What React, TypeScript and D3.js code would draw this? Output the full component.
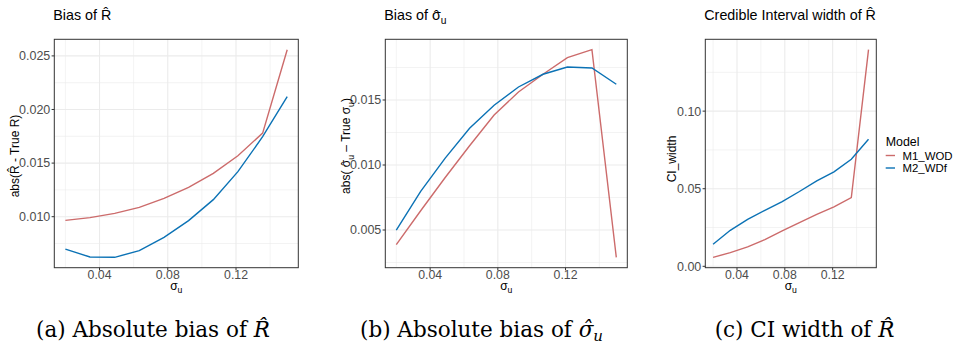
import React from "react";
import * as d3 from "d3";

// ---------- data ----------
const sigmaU = [0.02, 0.0344, 0.0489, 0.0633, 0.0778, 0.0922, 0.1067, 0.1211, 0.1356, 0.15];

const biasR_M1 = [0.00966, 0.00991, 0.01031, 0.01087, 0.01171, 0.01274, 0.01404, 0.01569, 0.0178, 0.02558];
const biasR_M2 = [0.00698, 0.00624, 0.00621, 0.00683, 0.00807, 0.00963, 0.01159, 0.0142, 0.01746, 0.0212];

const biasSigma_M1 = [0.00387, 0.00648, 0.00904, 0.01148, 0.01385, 0.01562, 0.01698, 0.01826, 0.01887, 0.0029];
const biasSigma_M2 = [0.005, 0.00797, 0.01053, 0.01283, 0.0146, 0.016, 0.01698, 0.01754, 0.01746, 0.01621];

const ciWidth_M1 = [0.0058, 0.0088, 0.0125, 0.0172, 0.0228, 0.0282, 0.0335, 0.0383, 0.0443, 0.1396];
const ciWidth_M2 = [0.0142, 0.0232, 0.0303, 0.0361, 0.0417, 0.0482, 0.0551, 0.0609, 0.069, 0.0819];

const models = ["M1_WOD", "M2_WDf"];
const xTicks = [0.04, 0.08, 0.12];
const yTicksA = [0.01, 0.015, 0.02, 0.025];
const yTicksB = [0.005, 0.01, 0.015];
const yTicksC = [0.0, 0.05, 0.1];

const colors = ["#CC6B6B", "#0B72B5"];
const SANS = "'Liberation Sans', Arial, Helvetica, sans-serif";
const SERIF = "'DejaVu Serif', serif";

const TOP = 39.3;
const BOTTOM = 267.7;

function expand(ext: [number, number], f = 0.05): [number, number] {
  const r = ext[1] - ext[0];
  return [ext[0] - r * f, ext[1] + r * f];
}

function minorOf(major: number[], dom: [number, number]) {
  const step = major[1] - major[0];
  const out: number[] = [];
  for (let i = -1; i < major.length; i++) {
    const v = major[0] + step * (i + 0.5);
    if (v >= dom[0] && v <= dom[1]) out.push(v);
  }
  return out;
}

type PanelDef = {
  left: number;
  right: number;
  series: number[][];
  yTicks: number[];
  yFmt: string;
  title: React.ReactNode;
  ylab: React.ReactNode;
  ylabX: number;
  ylabY: number;
};

// sigma with optional hat and subscript u (sans text)
const Sigma = ({ hat = false, size = 12 }: { hat?: boolean; size?: number }) => (
  <>
    <tspan fontSize={size}>{"\u03C3"}</tspan>
    {hat ? (
      <>
        <tspan fontSize={size} dx={-0.476 * size} dy={0.06 * size}>
          {"\u02C6"}
        </tspan>
        <tspan fontSize={size * 0.72} dx={0.143 * size} dy={0.24 * size}>
          u
        </tspan>
      </>
    ) : (
      <tspan fontSize={size * 0.72} dy={0.3 * size}>
        u
      </tspan>
    )}
    <tspan fontSize={size} dy={-0.3 * size}>
      {"\u200B"}
    </tspan>
  </>
);

const panels: PanelDef[] = [
  {
    left: 54.3,
    right: 298.3,
    series: [biasR_M1, biasR_M2],
    yTicks: yTicksA,
    yFmt: ".3f",
    title: <tspan fontSize={14.3}>Bias of R{"\u0302"}</tspan>,
    ylab: <tspan fontSize={12}>abs(R{"\u0302"} - True R)</tspan>,
    ylabX: 19,
    ylabY: 156,
  },
  {
    left: 385.3,
    right: 627.3,
    series: [biasSigma_M1, biasSigma_M2],
    yTicks: yTicksB,
    yFmt: ".3f",
    title: (
      <>
        <tspan fontSize={14.3}>Bias of </tspan>
        <Sigma hat size={14.3} />
      </>
    ),
    ylab: (
      <>
        <tspan fontSize={12}>abs( </tspan>
        <Sigma hat size={12} />
        <tspan fontSize={12}> {"\u2013"} True </tspan>
        <Sigma size={12} />
        <tspan fontSize={12}>)</tspan>
      </>
    ),
    ylabX: 350,
    ylabY: 146,
  },
  {
    left: 705.3,
    right: 876.3,
    series: [ciWidth_M1, ciWidth_M2],
    yTicks: yTicksC,
    yFmt: ".2f",
    title: <tspan fontSize={14.3}>Credible Interval width of R{"\u0302"}</tspan>,
    ylab: <tspan fontSize={12}>CI_width</tspan>,
    ylabX: 676,
    ylabY: 159,
  },
];

const Panel = ({ p }: { p: PanelDef }) => {
  const xDom = expand(d3.extent(sigmaU) as [number, number]);
  const x = d3.scaleLinear().domain(xDom).range([p.left, p.right]);
  const all = p.series.flat();
  const yDom = expand(d3.extent(all) as [number, number]);
  const y = d3.scaleLinear().domain(yDom).range([BOTTOM, TOP]);
  const xMinor = minorOf(xTicks, xDom);
  const yMinor = minorOf(p.yTicks, yDom);
  const line = d3
    .line<number>()
    .x((_, i) => x(sigmaU[i]))
    .y((d) => y(d));
  const fmtY = d3.format(p.yFmt);
  const fmtX = d3.format(".2f");
  const cx = (p.left + p.right) / 2;
  return (
    <g>
      <rect x={p.left} y={TOP} width={p.right - p.left} height={BOTTOM - TOP} fill="#fff" />
      {xMinor.map((v) => (
        <line key={"xm" + v} x1={x(v)} x2={x(v)} y1={TOP} y2={BOTTOM} stroke="#EBEBEB" strokeWidth={0.6} />
      ))}
      {yMinor.map((v) => (
        <line key={"ym" + v} x1={p.left} x2={p.right} y1={y(v)} y2={y(v)} stroke="#EBEBEB" strokeWidth={0.6} />
      ))}
      {xTicks.map((v) => (
        <line key={"xM" + v} x1={x(v)} x2={x(v)} y1={TOP} y2={BOTTOM} stroke="#EBEBEB" strokeWidth={1.1} />
      ))}
      {p.yTicks.map((v) => (
        <line key={"yM" + v} x1={p.left} x2={p.right} y1={y(v)} y2={y(v)} stroke="#EBEBEB" strokeWidth={1.1} />
      ))}
      {p.series.map((s, i) => (
        <path key={i} d={line(s) || ""} fill="none" stroke={colors[i]} strokeWidth={1.4} />
      ))}
      <rect x={p.left} y={TOP} width={p.right - p.left} height={BOTTOM - TOP} fill="none" stroke="#333" strokeWidth={1} />
      {xTicks.map((v) => (
        <g key={"xt" + v}>
          <line x1={x(v)} x2={x(v)} y1={BOTTOM} y2={BOTTOM + 2.7} stroke="#333" strokeWidth={1} />
          <text x={x(v)} y={279} textAnchor="middle" fontSize={12.3} fill="#4D4D4D" fontFamily={SANS}>
            {fmtX(v)}
          </text>
        </g>
      ))}
      {p.yTicks.map((v) => (
        <g key={"yt" + v}>
          <line x1={p.left - 2.7} x2={p.left} y1={y(v)} y2={y(v)} stroke="#333" strokeWidth={1} />
          <text x={p.left - 4} y={y(v) + 4.4} textAnchor="end" fontSize={12.5} fill="#4D4D4D" fontFamily={SANS}>
            {fmtY(v)}
          </text>
        </g>
      ))}
      <text x={cx} y={289.5} textAnchor="middle" fontSize={12} fontFamily={SANS} fill="#000">
        <Sigma size={12} />
      </text>
      <text
        transform={`translate(${p.ylabX},${p.ylabY}) rotate(-90)`}
        textAnchor="middle"
        fontSize={12}
        fontFamily={SANS}
        fill="#000"
      >
        {p.ylab}
      </text>
      <text x={p.left - 1} y={20} fontSize={14.3} fontFamily={SANS} fill="#000">
        {p.title}
      </text>
    </g>
  );
};

const captions = [
  { x: 153, main: "(a) Absolute bias of ", sym: "R" },
  { x: 481.5, main: "(b) Absolute bias of ", sym: "sigma" },
  { x: 804.5, main: "(c) CI width of ", sym: "R" },
];

export default function App() {
  return (
    <svg
      width={956}
      height={347}
      viewBox="0 0 956 347"
      style={{ position: "absolute", left: 0, top: 0, background: "#fff" }}
    >
      <rect width={956} height={347} fill="#fff" />
      {panels.map((p, i) => (
        <Panel key={i} p={p} />
      ))}
      {/* legend */}
      <g fontFamily={SANS}>
        <text x={885.7} y={146} fontSize={12.4} fill="#000">
          Model
        </text>
        {models.map((m, i) => (
          <g key={m}>
            <line x1={885.7} x2={895} y1={155.5 + i * 12.5} y2={155.5 + i * 12.5} stroke={colors[i]} strokeWidth={1.4} />
            <text x={902.5} y={159.5 + i * 12.5} fontSize={11.4} fill="#000">
              {m}
            </text>
          </g>
        ))}
      </g>
      {/* captions */}
      {captions.map((c) => (
        <text key={c.main} x={c.x} y={336.5} textAnchor="middle" fontSize={21.5} fontFamily={SERIF} fill="#000">
          <tspan fontSize={21.5}>{c.main}</tspan>
          {c.sym === "R" ? (
            <tspan fontSize={21.5} fontStyle="italic">
              R{"\u0302"}
            </tspan>
          ) : (
            <>
              <tspan fontSize={21.5} fontStyle="italic">
                {"\u03C3\u0302"}
              </tspan>
              <tspan fontStyle="italic" dy={4} fontSize={15}>
                u
              </tspan>
            </>
          )}
        </text>
      ))}
    </svg>
  );
}
